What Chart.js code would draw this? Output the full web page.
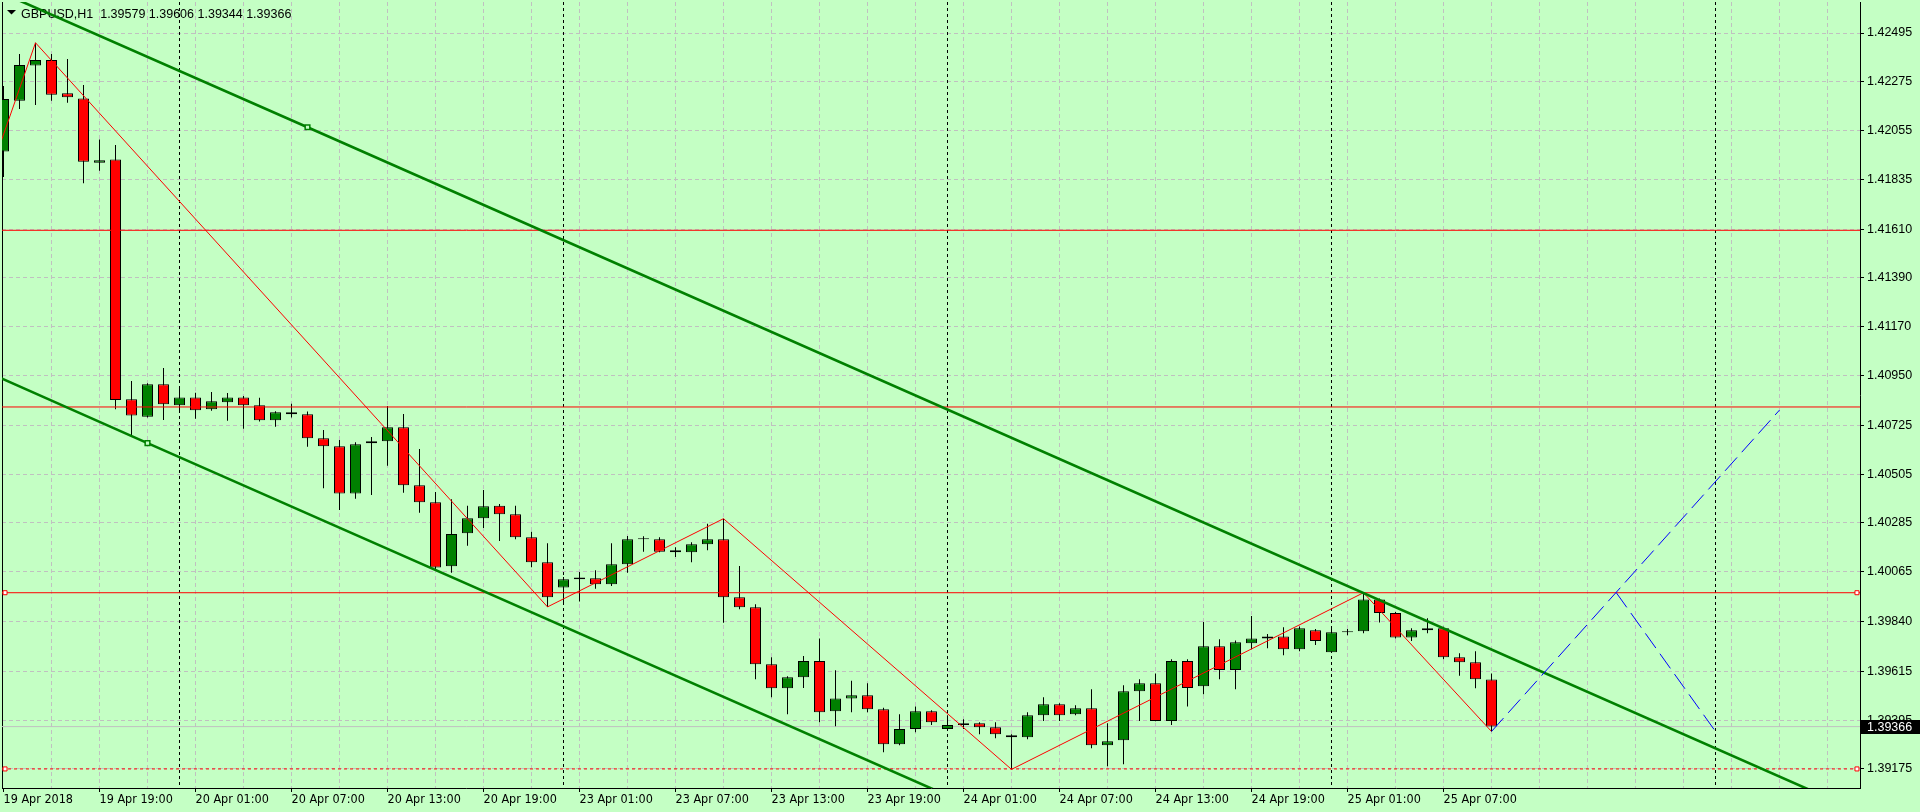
<!DOCTYPE html>
<html>
<head>
<meta charset="utf-8">
<title>GBPUSD,H1</title>
<script src="https://cdn.jsdelivr.net/npm/chart.js@4.4.1/dist/chart.umd.min.js"></script>
<style>
  html, body { margin: 0; padding: 0; background: #c4ffc4; }
  canvas { display: block; }
</style>
</head>
<body>
<canvas id="chart" width="1920" height="812"></canvas>
<script>
// GBPUSD H1, bar 0 = 19 Apr 13:00, one bar per hour (weekend skipped)
const opens = [
  1.41960, 1.42190, 1.42348, 1.42373, 1.42223, 1.42200, 1.41910, 1.41925, 1.40843, 1.40764,
  1.40910, 1.40816, 1.40851, 1.40798, 1.40829, 1.40851, 1.40816, 1.40748, 1.40784, 1.40775,
  1.40667, 1.40631, 1.40418, 1.40644, 1.40653, 1.40716, 1.40455, 1.40378, 1.40089, 1.40238,
  1.40306, 1.40362, 1.40324, 1.40220, 1.40107, 1.39993, 1.40031, 1.40035, 1.40008, 1.40098,
  1.40211, 1.40211, 1.40162, 1.40153, 1.40189, 1.40211, 1.39950, 1.39904, 1.39647, 1.39539,
  1.39589, 1.39662, 1.39435, 1.39493, 1.39507, 1.39444, 1.39286, 1.39355, 1.39435, 1.39355,
  1.39373, 1.39381, 1.39363, 1.39327, 1.39318, 1.39417, 1.39467, 1.39422, 1.39449, 1.39282,
  1.39304, 1.39525, 1.39562, 1.39391, 1.39662, 1.39548, 1.39728, 1.39621, 1.39742, 1.39764,
  1.39773, 1.39715, 1.39801, 1.39701, 1.39792, 1.39796, 1.39939, 1.39878, 1.39768, 1.39801,
  1.39810, 1.39679, 1.39656, 1.39579
];
const highs = [
  1.42256, 1.42400, 1.42451, 1.42400, 1.42378, 1.42260, 1.42015, 1.41990, 1.40925, 1.40915,
  1.40984, 1.40903, 1.40872, 1.40876, 1.40871, 1.40858, 1.40850, 1.40789, 1.40822, 1.40787,
  1.40704, 1.40659, 1.40649, 1.40672, 1.40812, 1.40776, 1.40618, 1.40424, 1.40392, 1.40362,
  1.40433, 1.40370, 1.40362, 1.40245, 1.40193, 1.40041, 1.40064, 1.40071, 1.40193, 1.40226,
  1.40225, 1.40220, 1.40175, 1.40198, 1.40281, 1.40304, 1.40091, 1.39918, 1.39679, 1.39593,
  1.39684, 1.39764, 1.39620, 1.39573, 1.39562, 1.39451, 1.39422, 1.39457, 1.39440, 1.39417,
  1.39399, 1.39386, 1.39386, 1.39332, 1.39431, 1.39498, 1.39471, 1.39462, 1.39534, 1.39381,
  1.39553, 1.39580, 1.39606, 1.39670, 1.39670, 1.39838, 1.39760, 1.39755, 1.39865, 1.39784,
  1.39814, 1.39818, 1.39806, 1.39818, 1.39806, 1.39970, 1.39944, 1.39883, 1.39810, 1.39855,
  1.39817, 1.39697, 1.39706, 1.39606
];
const lows = [
  1.41845, 1.42152, 1.42170, 1.42190, 1.42181, 1.41817, 1.41874, 1.40798, 1.40682, 1.40760,
  1.40749, 1.40782, 1.40755, 1.40791, 1.40746, 1.40710, 1.40742, 1.40719, 1.40760, 1.40628,
  1.40441, 1.40343, 1.40394, 1.40411, 1.40543, 1.40421, 1.40331, 1.40072, 1.40060, 1.40182,
  1.40262, 1.40203, 1.40211, 1.40085, 1.39906, 1.39919, 1.39930, 1.39988, 1.40000, 1.40060,
  1.40155, 1.40153, 1.40131, 1.40108, 1.40162, 1.39835, 1.39895, 1.39580, 1.39498, 1.39422,
  1.39540, 1.39386, 1.39368, 1.39431, 1.39431, 1.39250, 1.39282, 1.39340, 1.39373, 1.39353,
  1.39355, 1.39331, 1.39313, 1.39173, 1.39309, 1.39391, 1.39391, 1.39417, 1.39268, 1.39187,
  1.39196, 1.39391, 1.39390, 1.39373, 1.39457, 1.39512, 1.39580, 1.39534, 1.39715, 1.39719,
  1.39688, 1.39706, 1.39734, 1.39698, 1.39778, 1.39787, 1.39836, 1.39764, 1.39752, 1.39787,
  1.39670, 1.39595, 1.39539, 1.39344
];
const closes = [
  1.42197, 1.42351, 1.42373, 1.42217, 1.42205, 1.41914, 1.41921, 1.40840, 1.40769, 1.40910,
  1.40820, 1.40851, 1.40793, 1.40834, 1.40851, 1.40816, 1.40748, 1.40784, 1.40775, 1.40667,
  1.40631, 1.40418, 1.40640, 1.40653, 1.40716, 1.40455, 1.40378, 1.40084, 1.40235, 1.40306,
  1.40360, 1.40324, 1.40220, 1.40107, 1.39950, 1.40031, 1.40039, 1.40008, 1.40098, 1.40211,
  1.40214, 1.40155, 1.40153, 1.40189, 1.40211, 1.39950, 1.39904, 1.39647, 1.39539, 1.39589,
  1.39662, 1.39431, 1.39493, 1.39507, 1.39444, 1.39286, 1.39355, 1.39435, 1.39386, 1.39373,
  1.39381, 1.39363, 1.39331, 1.39318, 1.39417, 1.39467, 1.39417, 1.39449, 1.39282, 1.39300,
  1.39525, 1.39562, 1.39391, 1.39662, 1.39540, 1.39728, 1.39621, 1.39747, 1.39764, 1.39773,
  1.39715, 1.39810, 1.39752, 1.39792, 1.39796, 1.39939, 1.39878, 1.39768, 1.39801, 1.39810,
  1.39679, 1.39656, 1.39580, 1.39366
];

const symbol = "GBPUSD,H1";
// one label every 6 bars, starting at bar 0
const xTickLabels = [
  "19 Apr 2018", "19 Apr 19:00", "20 Apr 01:00", "20 Apr 07:00", "20 Apr 13:00", "20 Apr 19:00",
  "23 Apr 01:00", "23 Apr 07:00", "23 Apr 13:00", "23 Apr 19:00", "24 Apr 01:00", "24 Apr 07:00",
  "24 Apr 13:00", "24 Apr 19:00", "25 Apr 01:00", "25 Apr 07:00"
];
const yTickValues = [
  1.42495, 1.42275, 1.42055, 1.41835, 1.41610, 1.41390, 1.41170, 1.40950,
  1.40725, 1.40505, 1.40285, 1.40065, 1.39840, 1.39615, 1.39395, 1.39175
];
const daySeparators = [11, 35, 59, 83, 107]; // midnight bars

// drawn objects
const levels = [1.41605, 1.40808];
const markedLevel = 1.39970;
const dashedLevel = 1.39175;
const zigzagBars = [-1, 2, 34, 45, 63, 85, 93];
const zigzagPrices = [1.41830, 1.42451, 1.39906, 1.40304, 1.39173, 1.39970, 1.39344];
const channelUpperBars = [0, 19, 114];
const channelUpperPrices = [1.42673, 1.42070, 1.39045];
const channelLowerBars = [-0.5, 9, 59];
const channelLowerPrices = [1.40949, 1.40645, 1.39055];
const projUpBars = [93, 111];
const projUpPrices = [1.39344, 1.40794];
const projDownBars = [100.8, 107];
const projDownPrices = [1.39970, 1.39344];

// view
const xMin = -0.09375, xMax = 116.03125;
const yMin = 1.39089, yMax = 1.42635;

const BG = "#c4ffc4";
const GRID = "#c0c0c0";
const BULL = "#008000";
const BEAR = "#ff0000";
const FONT = '"Liberation Sans", Arial, sans-serif';
const FONT_NARROW = '"Liberation Sans Narrow", "DejaVu Sans Condensed", "Liberation Sans", sans-serif';
const last = closes.length - 1;

const pts = (bars, prices) => bars.map((b, i) => ({ x: b, y: prices[i] }));
const flat = (price, inset) => {
  const p = [{ x: xMin, y: price }];
  if (inset) p.push({ x: xMin + inset, y: price }, { x: xMax - inset, y: price });
  p.push({ x: xMax, y: price });
  return p;
};
const line = (label, data, color, width, dash, order, extra) => Object.assign({
  type: "line",
  label: label,
  data: data,
  borderColor: color,
  borderWidth: width,
  borderDash: dash,
  pointRadius: 0,
  tension: 0,
  fill: false,
  clip: 0,
  order: order,
}, extra || {});
const endMarks = {
  pointRadius: (c) => (c.dataIndex === 1 || c.dataIndex === 2 ? 2.83 : 0),
  pointStyle: "rect",
  pointBackgroundColor: "#fff",
  pointBorderColor: BEAR,
  pointBorderWidth: 1,
};
const anchorMark = {
  pointRadius: (c) => (c.dataIndex === 1 ? 3.3 : 0),
  pointStyle: "rect",
  pointBackgroundColor: BG,
  pointBorderColor: BULL,
  pointBorderWidth: 1.5,
};

const mtPlugin = {
  id: "mt4",
  beforeDraw(chart) {
    const ctx = chart.ctx;
    ctx.save();
    ctx.fillStyle = BG;
    ctx.fillRect(0, 0, chart.width, chart.height);
    ctx.restore();
  },
  beforeDatasetsDraw(chart) {
    const { ctx, chartArea: a, scales } = chart;
    ctx.save();
    ctx.strokeStyle = "#000";
    ctx.lineWidth = 1;
    ctx.setLineDash([3, 3]);
    daySeparators.forEach((b) => {
      const px = Math.floor(scales.x.getPixelForValue(b)) + 0.5;
      ctx.beginPath();
      ctx.moveTo(px, a.top);
      ctx.lineTo(px, a.bottom);
      ctx.stroke();
    });
    ctx.setLineDash([]);
    ctx.beginPath();
    ctx.moveTo(a.left + 0.5, a.top);
    ctx.lineTo(a.left + 0.5, a.bottom);
    ctx.stroke();
    // title
    ctx.fillStyle = "#000";
    ctx.beginPath();
    ctx.moveTo(7, 10);
    ctx.lineTo(16, 10);
    ctx.lineTo(11.5, 14.5);
    ctx.closePath();
    ctx.fill();
    ctx.font = "12.5px " + FONT;
    ctx.textBaseline = "alphabetic";
    const ohlc = [opens[last], highs[last], lows[last], closes[last]].map((v) => v.toFixed(5)).join(" ");
    ctx.fillText(symbol + "  " + ohlc, 21, 17.5);
    ctx.restore();
  },
  afterDraw(chart) {
    const { ctx, scales } = chart;
    const y = Math.round(scales.y.getPixelForValue(closes[last]));
    ctx.save();
    ctx.fillStyle = "#000";
    ctx.fillRect(1861, y - 7, 59, 14);
    ctx.fillStyle = "#fff";
    ctx.font = "12.5px " + FONT;
    ctx.textBaseline = "middle";
    ctx.fillText(closes[last].toFixed(5), 1867, y + 0.5);
    ctx.restore();
  },
};

new Chart(document.getElementById("chart"), {
  type: "bar",
  data: {
    datasets: [
      line("Bid", flat(closes[last]), GRID, 1, [], 20),
      {
        type: "bar",
        label: "wicks",
        data: lows.map((l, i) => ({ x: i, y: [l, highs[i]] })),
        backgroundColor: "#000",
        borderWidth: 0,
        barThickness: 1,
        inflateAmount: 0,
        grouped: false,
        order: 11,
      },
      {
        type: "bar",
        label: "bodies",
        data: opens.map((o, i) => ({ x: i, y: [o, closes[i]] })),
        backgroundColor: (c) => {
          const r = c.raw;
          if (!r) return BULL;
          if (Math.abs(r.y[1] - r.y[0]) < 0.00005) return "#000";
          return r.y[1] >= r.y[0] ? BULL : BEAR;
        },
        borderColor: "#000",
        borderWidth: 1,
        borderSkipped: false,
        barThickness: 11,
        minBarLength: 1,
        inflateAmount: 0,
        grouped: false,
        order: 10,
      },
      ...levels.map((p) => line("level", flat(p), BEAR, 1, [], 4)),
      line("marked level", flat(markedLevel, 0.19), BEAR, 1, [], 4, endMarks),
      line("dashed level", flat(dashedLevel, 0.19), BEAR, 1, [3, 3], 4, endMarks),
      line("ZigZag", pts(zigzagBars, zigzagPrices), BEAR, 1, [], 3),
      line("channel upper", pts(channelUpperBars, channelUpperPrices), BULL, 2.6, [], 2, anchorMark),
      line("channel lower", pts(channelLowerBars, channelLowerPrices), BULL, 2.6, [], 2, anchorMark),
      line("projection up", pts(projUpBars, projUpPrices), "#0000ff", 1, [18, 7], 1),
      line("projection down", pts(projDownBars, projDownPrices), "#0000ff", 1, [18, 7], 1),
    ],
  },
  options: {
    responsive: false,
    animation: false,
    devicePixelRatio: 1,
    events: [],
    layout: { padding: { left: 2, top: 2, right: 0, bottom: 0 }, autoPadding: false },
    plugins: {
      legend: { display: false },
      tooltip: { enabled: false },
    },
    scales: {
      x: {
        type: "linear",
        position: "bottom",
        min: xMin,
        max: xMax,
        offset: false,
        afterBuildTicks: (s) => {
          s.ticks = [];
          for (let b = 0; b <= xMax; b += 3) s.ticks.push({ value: b });
        },
        afterFit: (s) => {
          s.height = 24;
          s.paddingLeft = 0;
          s.paddingRight = 0;
        },
        ticks: {
          autoSkip: false,
          maxRotation: 0,
          minRotation: 0,
          align: "start",
          padding: 0,
          color: "#000",
          font: { family: FONT_NARROW, size: 12.5 },
          callback: (v) => (v % 6 === 0 ? xTickLabels[v / 6] || "" : ""),
        },
        grid: {
          offset: false,
          color: (c) => (c.tick && c.tick.value === 0 ? "transparent" : GRID),
          tickColor: (c) => (c.tick && c.tick.value % 6 === 0 && c.tick.value / 6 < xTickLabels.length ? "#000" : "transparent"),
          tickLength: 4,
          lineWidth: 1,
        },
        border: { display: true, color: "#000", width: 1, dash: [4, 3] },
      },
      y: {
        type: "linear",
        position: "right",
        min: yMin,
        max: yMax,
        beginAtZero: false,
        afterBuildTicks: (s) => {
          s.ticks = yTickValues.slice().sort((a, b) => a - b).map((v) => ({ value: v }));
        },
        afterFit: (s) => {
          s.width = 60;
          s.paddingTop = 0;
          s.paddingBottom = 0;
        },
        ticks: {
          autoSkip: false,
          padding: 3,
          color: "#000",
          font: { family: FONT, size: 12.5 },
          callback: (v) => v.toFixed(5),
        },
        grid: {
          color: GRID,
          tickColor: "#000",
          tickLength: 4,
          lineWidth: 1,
        },
        border: { display: true, color: "#000", width: 1, dash: [4, 3] },
      },
    },
  },
  plugins: [mtPlugin],
});
</script>
</body>
</html>
